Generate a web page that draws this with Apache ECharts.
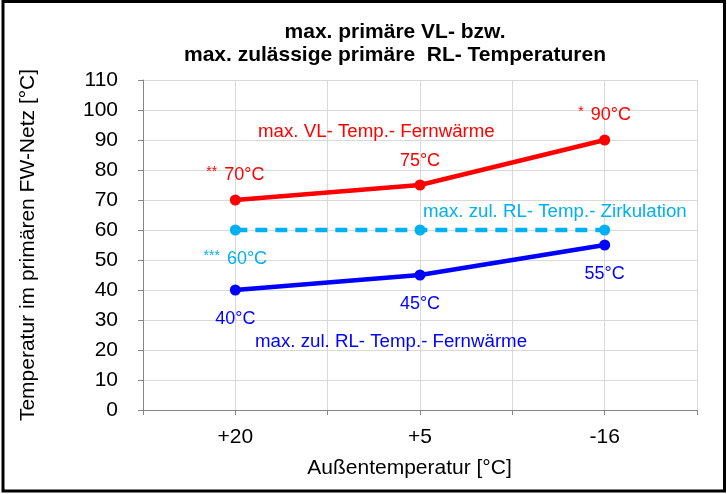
<!DOCTYPE html>
<html>
<head>
<meta charset="utf-8">
<script src="https://cdn.jsdelivr.net/npm/echarts@6/dist/echarts.min.js"></script>
<style>
  html, body { margin: 0; padding: 0; background: #fff; }
  #chart { width: 727px; height: 494px; }
</style>
</head>
<body>
<div id="chart"></div>
<script>
// ---- data ----
const categories = ['+20', '+5', '-16'];
const vlFernwaerme = [70, 75, 90];
const rlZirkulation = [60, 60, 60];
const rlFernwaerme = [40, 45, 55];
const vlPrefix = ['**', '', '*'];
const zirkPrefix = ['***', null, null];
const titleLines = ['max. primäre VL- bzw.', 'max. zulässige primäre  RL- Temperaturen'];
const yName = 'Temperatur im primären FW-Netz [°C]';
const xName = 'Außentemperatur [°C]';
const seriesNames = ['max. VL- Temp.- Fernwärme', 'max. zul. RL- Temp.- Zirkulation', 'max. zul. RL- Temp.- Fernwärme'];
const yMin = 0, yMax = 110, yStep = 10;

const FONT = 'Liberation Sans, Arial, sans-serif';
const RED = '#FF0000', CYAN = '#00B0F0', BLUE = '#0000FF';

const toPts = arr => arr.map((v, i) => [i, v]);

function labelFmt(prefixes) {
  return p => {
    const pre = prefixes[p.dataIndex];
    if (pre === null) return '';
    const val = p.value[1] + '°C';
    return pre ? '{s|' + pre + '} ' + val : val;
  };
}

const chart = echarts.init(document.getElementById('chart'), null, { renderer: 'canvas' });
const option = {
  animation: false,
  backgroundColor: '#fff',
  title: {
    text: titleLines.join('\n'),
    left: 390,
    top: 16,
    textAlign: 'center',
    textStyle: { fontFamily: FONT, fontSize: 21, fontWeight: 'bold', color: '#000', lineHeight: 23 }
  },
  grid: { left: 143, right: 30, top: 80, bottom: 84 },
  xAxis: {
    type: 'value',
    min: -0.5, max: 2.5, interval: 0.5,
    axisLine: { onZero: false, lineStyle: { color: '#868686', width: 1 } },
    axisTick: { show: true, length: 5, lineStyle: { color: '#868686' } },
    splitLine: { show: true, lineStyle: { color: '#d9d9d9', width: 1 } },
    axisLabel: {
      fontFamily: FONT, fontSize: 21, color: '#000', margin: 17,
      showMinLabel: true, showMaxLabel: true,
      formatter: v => {
        const i = Math.round(v);
        return (Math.abs(v - i) < 1e-6 && categories[i] !== undefined) ? categories[i] : '';
      }
    },
    name: xName,
    nameLocation: 'middle',
    nameGap: 48,
    nameTextStyle: { fontFamily: FONT, fontSize: 21, color: '#000', padding: [0, 21, 0, 0] }
  },
  yAxis: {
    type: 'value',
    min: yMin, max: yMax, interval: yStep,
    axisLine: { show: true, onZero: false, lineStyle: { color: '#868686', width: 1 } },
    axisTick: { show: true, length: 5, lineStyle: { color: '#868686' } },
    splitLine: { show: true, lineStyle: { color: '#d9d9d9', width: 1 } },
    axisLabel: { fontFamily: FONT, fontSize: 21, color: '#000', margin: 25 },
    name: yName,
    nameLocation: 'middle',
    nameRotate: 90,
    nameGap: 104,
    nameTextStyle: { fontFamily: FONT, fontSize: 21, color: '#000' }
  },
  series: [
    {
      name: seriesNames[0], type: 'line', data: toPts(vlFernwaerme),
      symbol: 'circle', symbolSize: 11,
      lineStyle: { color: RED, width: 4.5 }, itemStyle: { color: RED },
      label: {
        show: true, position: 'top', distance: 9, formatter: labelFmt(vlPrefix),
        fontFamily: FONT, fontSize: 18, color: RED,
        rich: { s: { fontFamily: FONT, fontSize: 14, color: RED, verticalAlign: 'top', padding: [0, 2, 6, 0] } }
      },
      z: 3
    },
    {
      name: seriesNames[1], type: 'line', data: toPts(rlZirkulation),
      symbol: 'circle', symbolSize: 11,
      lineStyle: { color: CYAN, width: 4.5, type: [12, 8] }, itemStyle: { color: CYAN },
      label: {
        show: true, position: 'bottom', distance: 14, formatter: labelFmt(zirkPrefix),
        fontFamily: FONT, fontSize: 18, color: CYAN,
        rich: { s: { fontFamily: FONT, fontSize: 14, color: CYAN, verticalAlign: 'top', padding: [0, 2, 6, 0] } }
      },
      z: 2
    },
    {
      name: seriesNames[2], type: 'line', data: toPts(rlFernwaerme),
      symbol: 'circle', symbolSize: 11,
      lineStyle: { color: BLUE, width: 4.5 }, itemStyle: { color: BLUE },
      label: {
        show: true, position: 'bottom', distance: 15,
        formatter: p => p.value[1] + '°C',
        fontFamily: FONT, fontSize: 18, color: BLUE
      },
      z: 3
    }
  ],
  graphic: [
    {
      type: 'rect', silent: true, z: 100,
      shape: { x: 3, y: 1.5, width: 721.5, height: 489.5 },
      style: { fill: 'none', stroke: '#000', lineWidth: 3 }
    },
    {
      type: 'text', left: 258, top: 122, z: 10,
      style: { text: seriesNames[0], font: '18.7px ' + FONT, fill: RED }
    },
    {
      type: 'text', left: 423, top: 202, z: 10,
      style: { text: seriesNames[1], font: '18.7px ' + FONT, fill: CYAN }
    },
    {
      type: 'text', left: 255, top: 332, z: 10,
      style: { text: seriesNames[2], font: '18.7px ' + FONT, fill: BLUE }
    }
  ]
};
chart.setOption(option);
</script>
</body>
</html>
